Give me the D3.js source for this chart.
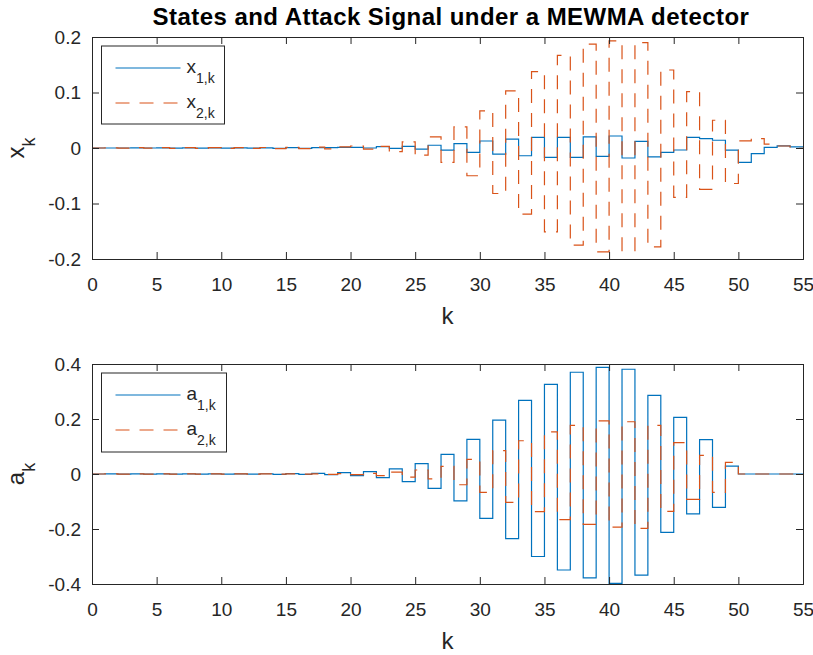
<!DOCTYPE html>
<html>
<head>
<meta charset="utf-8">
<script src="https://cdn.jsdelivr.net/npm/d3@7/dist/d3.min.js"></script>
<style>
body { margin: 0; background: #fff; }
text { font-family: "Liberation Sans", Arial, Helvetica, sans-serif; fill: #262626; }
</style>
</head>
<body>
<script>

// states x_k (one value per step k = 0..54)
var x1 = [
  0, 0, 0, 0.0001, 0, 0.0001, -0.0001, 0.0002, -0.0002, 0.0002,
  -0.0003, 0.0003, -0.0004, 0.0004, -0.0005, 0.0006, -0.0006, 0.0008, 0.0005, 0.001,
  0.001, 0, 0.0024, -0.0006, 0.003, -0.002, 0.005, -0.004, 0.008, -0.008,
  0.0126, -0.011, 0.016, -0.014, 0.019, -0.017, 0.019, -0.017, 0.020, -0.015,
  0.0216, -0.018, 0.012, -0.016, -0.008, -0.0036, 0.019, 0.017, 0.014, -0.004,
  -0.026, -0.010, 0.001, 0.004, 0.002
];
var x2 = [
  0, 0.0004, -0.0003, 0.0005, -0.0004, 0.0005, -0.0005, 0.0006, -0.0006, 0.0007,
  -0.0007, 0.0008, -0.0008, 0.0009, -0.001, 0.0011, -0.0012, 0.0014, -0.0016, 0.002,
  0.0036, -0.002, 0.003, -0.0066, 0.011, -0.013, 0.020, -0.026, 0.038, -0.050,
  0.067, -0.082, 0.103, -0.119, 0.1375, -0.151, 0.167, -0.175, 0.187, -0.187,
  0.193, -0.205, 0.19, -0.178, 0.1405, -0.089, 0.1015, -0.0745, 0.05, -0.064,
  0.013, 0.017, 0.007, 0.0036, -0.0006
];

// attack signal a_k
var a1 = [
  0, 0.0003, -0.0003, 0.0003, -0.0004, 0.0004, -0.0004, 0.0005, -0.0005, 0.0006,
  -0.0006, 0.0007, -0.0008, 0.0009, -0.001, 0.0012, -0.0014, 0.002, -0.002, 0.005,
  -0.006, 0.0085, -0.013, 0.019, -0.028, 0.0376, -0.052, 0.0715, -0.098, 0.126,
  -0.161, 0.196, -0.235, 0.268, -0.30, 0.326, -0.349, 0.37, -0.378, 0.388,
  -0.398, 0.381, -0.368, 0.286, -0.212, 0.206, -0.145, 0.125, -0.121, 0.029,
  0, 0, 0, 0, 0
];
var a2 = [
  0, 0.0002, -0.0002, 0.0002, -0.0002, 0.0003, -0.0003, 0.0003, -0.0003, 0.0004,
  -0.0004, 0.0004, -0.0005, 0.0005, -0.0006, 0.0006, -0.0007, 0.0008, -0.001, 0.0015,
  -0.002, 0.0024, -0.006, 0.007, -0.011, 0.0145, -0.018, 0.028, -0.039, 0.053,
  -0.067, 0.085, -0.103, 0.121, -0.137, 0.153, -0.166, 0.177, -0.183, 0.193,
  -0.193, 0.19, -0.198, 0.177, -0.136, 0.114, -0.092, 0.068, -0.067, 0.042,
  0, 0, 0, 0, 0
];

var kTicks = [0, 5, 10, 15, 20, 25, 30, 35, 40, 45, 50, 55];
var xkTicks = [-0.2, -0.1, 0, 0.1, 0.2];
var akTicks = [-0.4, -0.2, 0, 0.2, 0.4];

var blue = "#0072BD", orange = "#D95319", axisCol = "#262626";
var dashes = "14,10";

var svg = d3.select("body").append("svg")
  .attr("width", 813).attr("height", 655);

var xScale = d3.scaleLinear().domain([0, 55]).range([92, 803]);

var toSteps = function(vals){
  var pts = vals.map(function(v, i){ return {k: i, v: v}; });
  pts.push({k: 55, v: vals[vals.length - 1]});
  return pts;
};

var drawPanel = function(p){
  var y = d3.scaleLinear().domain(p.domain).range([p.bottom, p.top]);
  var g = svg.append("g");

  g.append("clipPath").attr("id", p.id + "clip")
    .append("rect").attr("x", 92).attr("y", p.top)
    .attr("width", 711).attr("height", p.bottom - p.top);

  var line = d3.line()
    .x(function(d){ return xScale(d.k); })
    .y(function(d){ return y(d.v); })
    .curve(d3.curveStepAfter);

  var lines = g.append("g").attr("clip-path", "url(#" + p.id + "clip)");
  lines.append("path").datum(toSteps(p.s1))
    .attr("d", line).attr("fill", "none")
    .attr("stroke", blue).attr("stroke-width", 1.2);
  lines.append("path").datum(toSteps(p.s2))
    .attr("d", line).attr("fill", "none")
    .attr("stroke", orange).attr("stroke-width", 1.2)
    .attr("stroke-dasharray", dashes);

  // axes, ticks inside on all four sides
  var bottomAx = g.append("g").attr("transform", "translate(0," + p.bottom + ")")
    .call(d3.axisBottom(xScale).tickValues(kTicks).tickSize(-7).tickPadding(18.5).tickFormat(d3.format("d")));
  var topAx = g.append("g").attr("transform", "translate(0," + p.top + ")")
    .call(d3.axisTop(xScale).tickValues(kTicks).tickSize(-7).tickFormat(""));
  var leftAx = g.append("g").attr("transform", "translate(92,0)")
    .call(d3.axisLeft(y).tickValues(p.ticks).tickSize(-7).tickPadding(11)
      .tickFormat(function(d){ return d === 0 ? "0" : String(d); }));
  var rightAx = g.append("g").attr("transform", "translate(803,0)")
    .call(d3.axisRight(y).tickValues(p.ticks).tickSize(-7).tickFormat(""));

  [bottomAx, topAx, leftAx, rightAx].forEach(function(ax){
    ax.selectAll("path.domain").attr("stroke", axisCol).attr("stroke-width", 1);
    ax.selectAll(".tick line").attr("stroke", axisCol).attr("stroke-width", 1);
    ax.selectAll(".tick text").attr("fill", axisCol)
      .style("font-family", "'Liberation Sans', Arial, sans-serif")
      .style("font-size", "19px");
  });
  bottomAx.selectAll(".tick text").attr("dy", "0.71em");

  // x label
  g.append("text").attr("x", 447.5).attr("y", p.bottom + 65)
    .attr("text-anchor", "middle").style("font-size", "24px").text("k");

  // y label with subscript
  var yl = g.append("text")
    .attr("transform", "translate(24," + ((p.top + p.bottom) / 2) + ") rotate(-90)")
    .attr("text-anchor", "middle").style("font-size", "24px");
  yl.append("tspan").text(p.sym);
  yl.append("tspan").attr("dy", 11).style("font-size", "18px").text("k");

  // legend
  var lg = g.append("g");
  lg.append("rect").attr("x", p.leg.x).attr("y", p.leg.y)
    .attr("width", p.leg.w).attr("height", p.leg.h)
    .attr("fill", "#fff").attr("stroke", axisCol).attr("stroke-width", 1);
  var entries = [
    {sub: "1,k", col: blue, dash: null, y: p.leg.y + 22},
    {sub: "2,k", col: orange, dash: dashes, y: p.leg.y + 57}
  ];
  entries.forEach(function(e){
    lg.append("line").attr("x1", p.leg.x + 14).attr("x2", p.leg.x + 79)
      .attr("y1", e.y).attr("y2", e.y)
      .attr("stroke", e.col).attr("stroke-width", 1.2)
      .attr("stroke-dasharray", e.dash);
    var t = lg.append("text").attr("x", p.leg.x + 85).attr("y", e.y + 5)
      .style("font-size", "19px");
    t.append("tspan").text(p.sym);
    t.append("tspan").attr("dy", 10).style("font-size", "14px").text(e.sub);
  });
};

drawPanel({id: "top", top: 37, bottom: 259, domain: [-0.2, 0.2], ticks: xkTicks,
  s1: x1, s2: x2, sym: "x", leg: {x: 101.5, y: 46, w: 123, h: 78}});
drawPanel({id: "bot", top: 364, bottom: 584, domain: [-0.4, 0.4], ticks: akTicks,
  s1: a1, s2: a2, sym: "a", leg: {x: 101.5, y: 373, w: 125, h: 79}});

svg.append("text").attr("x", 451).attr("y", 25)
  .attr("text-anchor", "middle")
  .style("font-size", "24px").style("font-weight", "bold").style("fill", "#000")
  .style("letter-spacing", "0.45px")
  .text("States and Attack Signal under a MEWMA detector");

</script>
</body>
</html>
